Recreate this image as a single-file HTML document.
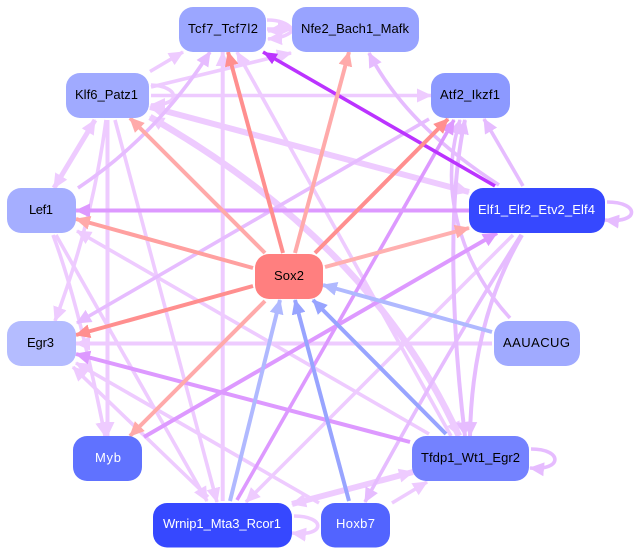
<!DOCTYPE html>
<html>
<head>
<meta charset="utf-8">
<style>
html,body{margin:0;padding:0;background:#fff;}
svg{display:block;}
text{font-family:"Liberation Sans",sans-serif;font-size:13px;}
path,line{fill:none;}
</style>
</head>
<body>
<svg width="636" height="554" viewBox="0 0 636 554" xmlns="http://www.w3.org/2000/svg">
<defs>
<marker id="p" markerUnits="userSpaceOnUse" markerWidth="16" markerHeight="16" refX="14" refY="8" orient="auto-start-reverse"><polygon points="0,1 15,8 0,15" fill="#eecbff"/></marker>
<marker id="m" markerUnits="userSpaceOnUse" markerWidth="16" markerHeight="16" refX="14" refY="8" orient="auto-start-reverse"><polygon points="0,1 15,8 0,15" fill="#e6bcff"/></marker>
<marker id="d" markerUnits="userSpaceOnUse" markerWidth="16" markerHeight="16" refX="14" refY="8" orient="auto-start-reverse"><polygon points="0,1 15,8 0,15" fill="#dd99ff"/></marker>
<marker id="s" markerUnits="userSpaceOnUse" markerWidth="16" markerHeight="16" refX="14" refY="8" orient="auto-start-reverse"><polygon points="0,2 14,8 0,14" fill="#bb33ff"/></marker>
<marker id="r1" markerUnits="userSpaceOnUse" markerWidth="16" markerHeight="16" refX="14" refY="8" orient="auto-start-reverse"><polygon points="0,1 15,8 0,15" fill="#ff8f8f"/></marker>
<marker id="r2" markerUnits="userSpaceOnUse" markerWidth="16" markerHeight="16" refX="14" refY="8" orient="auto-start-reverse"><polygon points="0,1 15,8 0,15" fill="#ffaaaa"/></marker>
<marker id="b1" markerUnits="userSpaceOnUse" markerWidth="16" markerHeight="16" refX="14" refY="8" orient="auto-start-reverse"><polygon points="0,1 15,8 0,15" fill="#b0b9ff"/></marker>
<marker id="b2" markerUnits="userSpaceOnUse" markerWidth="16" markerHeight="16" refX="14" refY="8" orient="auto-start-reverse"><polygon points="0,1 15,8 0,15" fill="#98a4ff"/></marker>
</defs>

<!-- light edges -->
<g stroke="#eecbff" stroke-width="3.6">
<path d="M150,71.5 L183,52" marker-end="url(#p)"/>
<path d="M151,87 L291,53" marker-end="url(#p)"/>
<path d="M151,85 C178,86 184,105 151,105" marker-end="url(#p)"/>
<path d="M151,95.5 L431,95.5" marker-end="url(#p)"/>
<path d="M469,192 L150,107" stroke-width="6" marker-start="url(#p)" marker-end="url(#p)"/>
<path d="M459,436 Q372,244 150,117" stroke-width="6.5" marker-start="url(#p)" marker-end="url(#p)"/>
<path d="M95,120 L54,188" stroke-width="5" marker-start="url(#p)" marker-end="url(#p)"/>
<path d="M106,120 Q93,220 55,321" marker-end="url(#p)"/>
<path d="M107.5,120 L107.5,436" stroke-width="4" marker-end="url(#p)"/>
<path d="M115,120 L217,502" marker-end="url(#p)"/>
<path d="M222.7,501 L222.7,52" stroke-width="4" marker-end="url(#p)"/>
<path d="M451,436 L237,52" marker-end="url(#p)"/>
<path d="M492,343.5 L76,343.5" stroke-width="4" marker-end="url(#p)"/>
<path d="M429,434 L77,231" marker-end="url(#p)"/>
<path d="M53,235 Q79,304 105,436" marker-end="url(#p)"/>
<path d="M56,235 L207,501" marker-end="url(#p)"/>
<path d="M208,497 L73,367" marker-end="url(#p)"/>
<path d="M319,503 L76,363" marker-end="url(#p)"/>
<path d="M513,235 L246,502" marker-end="url(#p)"/>
<path d="M292,504 L413,472" stroke-width="6" marker-start="url(#p)" marker-end="url(#p)"/>
<path d="M392,503 L427,482" marker-end="url(#p)"/>
<path d="M294,516 C326,516 326,537 292,533" marker-end="url(#p)"/>
<path d="M267,20 Q285,20 292,29" />
<path d="M267,29 L292,29" marker-end="url(#p)"/>
<path d="M292,31 Q285,38 268,39" marker-end="url(#p)"/>
<path d="M292,29 L268,31" marker-end="url(#p)"/>
</g>

<!-- medium edges -->
<g stroke="#e6bcff" stroke-width="3.6">
<path d="M78,188 Q156,136 210,52" marker-end="url(#m)"/>
<path d="M429,119 L77,323" marker-end="url(#m)"/>
<path d="M499,185 Q406,125 369,53" marker-end="url(#m)"/>
<path d="M523,186 L484,119" marker-end="url(#m)"/>
<path d="M510,318 C470,275 435,200 460,120" marker-end="url(#m)"/>
<path d="M465,120 C447,200 452,330 465,436" stroke-width="4" marker-start="url(#m)" marker-end="url(#m)"/>
<path d="M522,235 Q472,320 470,436" stroke-width="4" marker-end="url(#m)"/>
<path d="M521,235 Q448,350 365,502" marker-end="url(#m)"/>
<path d="M607,202 C640,202 640,224 605,220" marker-end="url(#m)"/>
<path d="M531,449 C563,449 563,471 530,468" marker-end="url(#m)"/>
</g>

<!-- purple edges -->
<g stroke="#dd99ff" stroke-width="4">
<path d="M469,210.5 L76,210.5" marker-end="url(#d)"/>
<path d="M237,500 L454,120" stroke-width="3.6" marker-end="url(#d)"/>
<path d="M144,437 L497,233" marker-end="url(#d)"/>
<path d="M410,442 L76,354" marker-end="url(#d)"/>
</g>
<path d="M495,186 L263,52" stroke="#bb33ff" stroke-width="3.6" marker-end="url(#s)"/>

<!-- red and blue edges -->
<g stroke-width="4">
<path d="M265,253 L130,118" stroke="#ffaaaa" marker-end="url(#r2)"/>
<path d="M283,253 L228,52" stroke="#ff8f8f" marker-end="url(#r1)"/>
<path d="M295,253 L349,52" stroke="#ffaaaa" marker-end="url(#r2)"/>
<path d="M315,253 L448,119" stroke="#ff8f8f" marker-end="url(#r1)"/>
<path d="M253,268 L76,219" stroke="#ffa0a0" marker-end="url(#r2)"/>
<path d="M253,286 L76,335" stroke="#ff8f8f" marker-end="url(#r1)"/>
<path d="M265,301 L130,436" stroke="#ffaaaa" marker-end="url(#r2)"/>
<path d="M325,267 L469,228" stroke="#ffb0b0" marker-end="url(#r2)"/>
<path d="M492,332 L323,285" stroke="#b0b9ff" marker-end="url(#b1)"/>
<path d="M446,434 L313,300" stroke="#98a4ff" marker-end="url(#b2)"/>
<path d="M349,501 L295,300" stroke="#98a4ff" marker-end="url(#b2)"/>
<path d="M230,501 L280,300" stroke="#b0b9ff" marker-end="url(#b1)"/>
</g>

<!-- nodes -->
<rect x="179" y="7" width="87" height="45" rx="14" fill="#9ba6ff"/>
<rect x="292" y="7" width="127" height="45" rx="14" fill="#98a3ff"/>
<rect x="66" y="73" width="83" height="45" rx="14" fill="#a0aaff"/>
<rect x="431" y="73" width="79" height="45" rx="14" fill="#8c99ff"/>
<rect x="7" y="188" width="69" height="45" rx="14" fill="#a5aeff"/>
<rect x="469" y="188" width="136" height="45" rx="14" fill="#3648ff"/>
<rect x="255" y="254" width="68" height="45" rx="14" fill="#ff7f7f"/>
<rect x="7" y="321" width="69" height="45" rx="14" fill="#b4bcff"/>
<rect x="494" y="321" width="86" height="45" rx="14" fill="#a0aaff"/>
<rect x="73" y="436" width="69" height="45" rx="14" fill="#6072ff"/>
<rect x="412" y="436" width="117" height="45" rx="14" fill="#7482ff"/>
<rect x="153" y="503" width="139" height="44.5" rx="14" fill="#3648ff"/>
<rect x="321" y="503" width="69" height="44.5" rx="14" fill="#5264ff"/>

<!-- labels -->
<text x="188" y="33" textLength="70" lengthAdjust="spacing" fill="#000">Tcf7_Tcf7l2</text>
<text x="301" y="33" textLength="108" lengthAdjust="spacing" fill="#000">Nfe2_Bach1_Mafk</text>
<text x="75" y="99" textLength="63" lengthAdjust="spacing" fill="#000">Klf6_Patz1</text>
<text x="440" y="99" textLength="60" lengthAdjust="spacing" fill="#000">Atf2_Ikzf1</text>
<text x="29" y="214" textLength="24" lengthAdjust="spacing" fill="#000">Lef1</text>
<text x="478" y="214" textLength="117" lengthAdjust="spacing" fill="#fff">Elf1_Elf2_Etv2_Elf4</text>
<text x="274" y="280" textLength="30" lengthAdjust="spacing" fill="#000">Sox2</text>
<text x="27" y="347" textLength="27" lengthAdjust="spacing" fill="#000">Egr3</text>
<text x="503" y="347" textLength="67" lengthAdjust="spacing" fill="#000">AAUACUG</text>
<text x="95" y="462" textLength="26" lengthAdjust="spacing" fill="#fff">Myb</text>
<text x="421" y="462" textLength="99" lengthAdjust="spacing" fill="#000">Tfdp1_Wt1_Egr2</text>
<text x="163" y="528" textLength="118" lengthAdjust="spacing" fill="#fff">Wrnip1_Mta3_Rcor1</text>
<text x="336" y="528" textLength="39" lengthAdjust="spacing" fill="#fff">Hoxb7</text>
</svg>
</body>
</html>
